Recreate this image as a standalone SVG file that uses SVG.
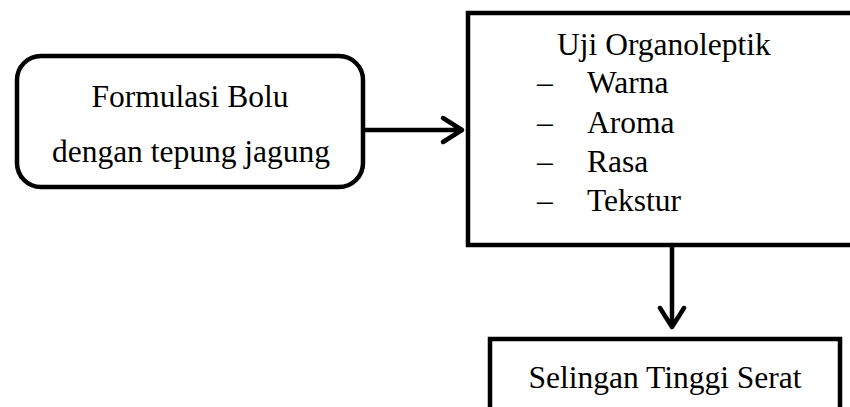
<svg xmlns="http://www.w3.org/2000/svg" width="850" height="407" viewBox="0 0 850 407">
<style>
.box{fill:#fff;stroke:#000;stroke-width:4.5}
.t{font-family:"Liberation Serif","Times New Roman",serif;font-size:31.5px;fill:#000}
.c{stroke:#000;stroke-width:4.5;fill:none;stroke-linecap:round;stroke-linejoin:round}
</style>
<rect width="850" height="407" fill="#fff"/>
<g id="formulasi">
<rect class="box" x="17" y="56" width="346" height="131" rx="24"/>
<text class="t" x="190" y="107" text-anchor="middle">Formulasi Bolu</text>
<text class="t" x="191" y="162" text-anchor="middle">dengan tepung jagung</text>
</g>
<g id="uji">
<rect class="box" x="468" y="13" width="400" height="232"/>
<text class="t" x="557" y="55">Uji Organoleptik</text>
<text class="t" x="537" y="93">–</text><text class="t" x="587" y="93">Warna</text>
<text class="t" x="537" y="133">–</text><text class="t" x="587" y="133">Aroma</text>
<text class="t" x="537" y="172">–</text><text class="t" x="587" y="172">Rasa</text>
<text class="t" x="537" y="211">–</text><text class="t" x="587" y="211">Tekstur</text>
</g>
<g id="selingan">
<rect class="box" x="490" y="339" width="350" height="90"/>
<text class="t" x="665" y="388" text-anchor="middle">Selingan Tinggi Serat</text>
</g>
<g id="connectors">
<path class="c" d="M365 130 H462 M443 118 L462 130 L443 142"/>
<path class="c" d="M672 247 V327 M660 308 L672 327 L684 308"/>
</g>
</svg>
